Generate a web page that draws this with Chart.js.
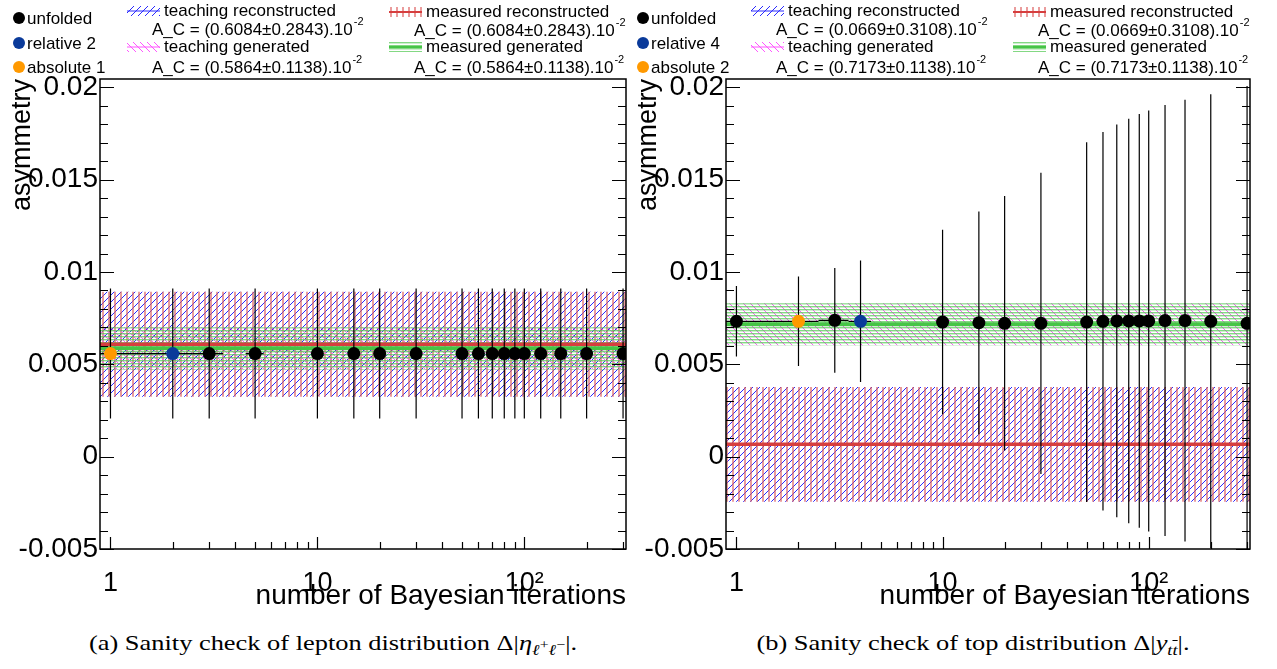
<!DOCTYPE html>
<html>
<head>
<meta charset="utf-8">
<script src="https://cdn.jsdelivr.net/npm/chart.js@4.4.1/dist/chart.umd.min.js"></script>
<style>
  html, body { margin: 0; padding: 0; background: #fff; }
  body { width: 1277px; height: 669px; position: relative; overflow: hidden; }
  .panel { position: absolute; top: 0; height: 620px; }
  #pa { left: 0; width: 636px; }
  #pb { left: 636px; width: 641px; }
  .cap { position: absolute; top: 630px; width: 600px; text-align: center; font-family: "Liberation Serif", serif;
         font-size: 22px; white-space: nowrap; color: #000; transform: scaleX(1.2); }
  #capa { left: 33px; }
  #capb { left: 673px; }
  sub { font-size: 70%; }
  sub sup { font-size: 85%; }
</style>
</head>
<body>
<div class="panel" id="pa"><canvas id="ca" width="636" height="620"></canvas></div>
<div class="panel" id="pb"><canvas id="cb" width="641" height="620"></canvas></div>
<div class="cap" id="capa">(a) Sanity check of lepton distribution Δ|<i>η</i><sub><i>ℓ</i><sup>+</sup><i>ℓ</i><sup>−</sup></sub>|.</div>
<div class="cap" id="capb">(b) Sanity check of top distribution Δ|<i>y</i><sub><i>t</i><span style="text-decoration:overline"><i>t</i></span></sub>|.</div>
<script>
// axis ranges and ticks
const X_MIN = 0.89, X_MAX = 310;
const Y_MIN = -0.005, Y_MAX = 0.02045;
const X_ERR = 0.5;
const xTickValues = [1, 10, 100];
const xTickLabels = ['1', '10', '10²'];
const yTickValues = [-0.005, 0, 0.005, 0.01, 0.015, 0.02];
const yTickLabels = ['-0.005', '0', '0.005', '0.01', '0.015', '0.02'];
const bandLabels = ['teaching reconstructed', 'teaching generated', 'measured reconstructed', 'measured generated'];

// (a) lepton distribution
const aUnfoldedX = [3, 5, 10, 15, 20, 30, 50, 60, 70, 80, 90, 100, 120, 150, 200, 300];
const aUnfoldedY = [0.00558, 0.00558, 0.00558, 0.00558, 0.00558, 0.00558, 0.00558, 0.00558,
                    0.00558, 0.00558, 0.00558, 0.00558, 0.00558, 0.00558, 0.00558, 0.00558];
const aUnfoldedErr = [0.00352, 0.00352, 0.00352, 0.00352, 0.00352, 0.00352, 0.00352, 0.00352,
                      0.00352, 0.00352, 0.00352, 0.00352, 0.00352, 0.00352, 0.00352, 0.00352];
const aRelativeX = [2], aRelativeY = [0.00558], aRelativeErr = [0.00352];
const aAbsoluteX = [1], aAbsoluteY = [0.00558], aAbsoluteErr = [0.00352];
const aTeachReco = [0.006084, 0.002843];
const aMeasReco = [0.006084, 0.002843];
const aTeachGen = [0.005864, 0.001138];
const aMeasGen = [0.005864, 0.001138];
const aMarkerLabels = ['unfolded', 'relative 2', 'absolute 1'];

// (b) top distribution
const bUnfoldedX = [1, 3, 10, 15, 20, 30, 50, 60, 70, 80, 90, 100, 120, 150, 200, 300];
const bUnfoldedY = [0.00733, 0.00738, 0.00729, 0.00725, 0.00722, 0.00722, 0.00729, 0.00733,
                    0.00735, 0.00735, 0.00735, 0.00735, 0.00737, 0.00737, 0.00733, 0.00722];
const bUnfoldedErr = [0.00191, 0.00284, 0.0050, 0.00603, 0.00689, 0.00816, 0.00974, 0.01025,
                      0.01063, 0.01095, 0.0112, 0.0114, 0.01167, 0.01196, 0.01229, 0.01285];
const bRelativeX = [4], bRelativeY = [0.00733], bRelativeErr = [0.00329];
const bAbsoluteX = [2], bAbsoluteY = [0.00733], bAbsoluteErr = [0.00242];
const bTeachReco = [0.000669, 0.003108];
const bMeasReco = [0.000669, 0.003108];
const bTeachGen = [0.007173, 0.001138];
const bMeasGen = [0.007173, 0.001138];
const bMarkerLabels = ['unfolded', 'relative 4', 'absolute 2'];

const SANS = '"Liberation Sans", Arial, sans-serif';
Chart.defaults.font.family = SANS;
Chart.defaults.color = '#000';

const RED = 'rgb(214,62,62)', GREEN = 'rgb(70,196,70)', BLUE = '#2a2aff', PINK = '#ff55ff';
const MARKER_COLORS = ['#000000', '#0a3a9a', '#ff9900'];

function makePattern(w, h, paint) {
  const c = document.createElement('canvas');
  c.width = w; c.height = h;
  const g = c.getContext('2d');
  paint(g, w, h);
  return g.createPattern(c, 'repeat');
}
const patBlue = makePattern(7, 7, (g, w, h) => {
  g.strokeStyle = BLUE; g.lineWidth = 1;
  g.beginPath();
  g.moveTo(-1, h + 1); g.lineTo(w + 1, -1);
  g.moveTo(-1, 1); g.lineTo(1, -1);
  g.moveTo(w - 1, h + 1); g.lineTo(w + 1, h - 1);
  g.stroke();
});
const patRed = makePattern(6, 6, (g, w, h) => {
  g.fillStyle = 'rgba(220,90,90,0.6)'; g.fillRect(0, 0, 2, h);
});
const patPink = makePattern(7, 7, (g, w, h) => {
  g.strokeStyle = PINK; g.lineWidth = 1;
  g.beginPath();
  g.moveTo(-1, -1); g.lineTo(w + 1, h + 1);
  g.moveTo(w - 1, -1); g.lineTo(w + 1, 1);
  g.moveTo(-1, h - 1); g.lineTo(1, h + 1);
  g.stroke();
});
const patGreen = makePattern(3, 3, (g, w, h) => {
  g.fillStyle = 'rgba(80,200,80,0.7)'; g.fillRect(0, 0, w, 1.4);
});

function bandSets(band, pattern, order) {
  const lo = band[0] - band[1], hi = band[0] + band[1];
  const base = { showLine: true, pointRadius: 0, borderColor: 'rgba(0,0,0,0)', borderWidth: 0, order };
  return [
    { ...base, data: [{ x: X_MIN, y: lo }, { x: X_MAX, y: lo }], fill: false },
    { ...base, data: [{ x: X_MIN, y: hi }, { x: X_MAX, y: hi }], fill: '-1', backgroundColor: pattern }
  ];
}
function centreLine(band, color, width, order) {
  return { showLine: true, pointRadius: 0, fill: false, borderColor: color, borderWidth: width, order,
           data: [{ x: X_MIN, y: band[0] }, { x: X_MAX, y: band[0] }] };
}
function pointSet(label, xs, ys, errs, color, order) {
  return { label, order, showLine: false, pointRadius: 6.5, pointHoverRadius: 6.5,
           pointBackgroundColor: color, pointBorderWidth: 0, yErr: errs,
           data: xs.map((x, i) => ({ x, y: ys[i] })) };
}

// error bars in x and y, drawn just before each marker series
const errorBars = {
  id: 'errorBars',
  beforeDatasetDraw(chart, args) {
    const ds = chart.data.datasets[args.index];
    if (!ds.yErr) return;
    const { ctx, chartArea: a, scales: { x, y } } = chart;
    ctx.save();
    ctx.beginPath(); ctx.rect(a.left, a.top, a.right - a.left, a.bottom - a.top); ctx.clip();
    ctx.strokeStyle = '#000'; ctx.lineWidth = 1.2;
    ds.data.forEach((p, i) => {
      const px = x.getPixelForValue(p.x), py = y.getPixelForValue(p.y);
      ctx.beginPath();
      ctx.moveTo(px, y.getPixelForValue(p.y - ds.yErr[i]));
      ctx.lineTo(px, y.getPixelForValue(p.y + ds.yErr[i]));
      ctx.moveTo(x.getPixelForValue(p.x - X_ERR), py);
      ctx.lineTo(x.getPixelForValue(p.x + X_ERR), py);
      ctx.stroke();
    });
    ctx.restore();
  }
};

// ROOT-like frame with inner ticks on both sides
const frame = {
  id: 'frame',
  afterDraw(chart) {
    const { ctx, chartArea: a, scales: { x, y } } = chart;
    ctx.save();
    ctx.strokeStyle = '#000'; ctx.lineWidth = 1.5;
    ctx.strokeRect(a.left, a.top, a.right - a.left, a.bottom - a.top);
    ctx.lineWidth = 1.2;
    ctx.beginPath();
    const step = (yTickValues[1] - yTickValues[0]) / 5;
    for (let v = yTickValues[0]; v <= Y_MAX + 1e-9; v += step) {
      const py = Math.round(y.getPixelForValue(v)) + 0.5;
      const major = yTickValues.some(t => Math.abs(t - v) < 1e-9);
      const len = major ? 14 : 8;
      ctx.moveTo(a.left, py); ctx.lineTo(a.left + len, py);
      ctx.moveTo(a.right, py); ctx.lineTo(a.right - len, py);
    }
    for (let d = 1; d <= 100; d *= 10) {
      for (let m = 1; m <= 9; m++) {
        const v = d * m;
        if (v < X_MIN || v > X_MAX) continue;
        const px = Math.round(x.getPixelForValue(v)) + 0.5;
        const len = m === 1 ? 12 : 7;
        ctx.moveTo(px, a.bottom); ctx.lineTo(px, a.bottom - len);
      }
    }
    ctx.stroke();
    ctx.restore();
  }
};

// legend drawn in the top margin
const legendBox = {
  id: 'legendBox',
  afterDraw(chart, args, opts) {
    const { ctx } = chart;
    const dx = opts.dx;
    ctx.save();
    ctx.textBaseline = 'middle';
    ctx.fillStyle = '#000';
    ctx.font = '17px ' + SANS;
    const my = [18, 43, 67];
    opts.markers.forEach((t, i) => {
      ctx.fillStyle = MARKER_COLORS[i];
      ctx.beginPath(); ctx.arc(19 + dx, my[i], 6, 0, Math.PI * 2); ctx.fill();
      ctx.fillStyle = '#000';
      ctx.fillText(t, 27 + dx, my[i] + 1);
    });
    const entries = [
      { x: 127, y: 11, pat: patBlue, line: BLUE, lw: 1, band: opts.bands[0], label: bandLabels[0], ax: 152, ay: 30 },
      { x: 127, y: 47, pat: patPink, line: PINK, lw: 1, band: opts.bands[1], label: bandLabels[1], ax: 152, ay: 68 },
      { x: 389, y: 12, pat: patRed, line: RED, lw: 2, band: opts.bands[2], label: bandLabels[2], ax: 414, ay: 31 },
      { x: 389, y: 47, pat: patGreen, line: GREEN, lw: 2, band: opts.bands[3], label: bandLabels[3], ax: 414, ay: 68 }
    ];
    entries.forEach(e => {
      const ix = e.x + dx;
      ctx.fillStyle = e.pat;
      ctx.fillRect(ix, e.y - 5, 33, 10);
      ctx.strokeStyle = e.line; ctx.lineWidth = e.lw;
      ctx.beginPath(); ctx.moveTo(ix, e.y); ctx.lineTo(ix + 33, e.y); ctx.stroke();
      ctx.fillStyle = '#000';
      ctx.font = '17px ' + SANS;
      ctx.fillText(e.label, ix + 37, e.y);
      const txt = 'A_C = (' + (e.band[0] * 100).toFixed(4) + '±' + (e.band[1] * 100).toFixed(4) + ').10';
      ctx.fillText(txt, e.ax + dx, e.ay);
      const w = ctx.measureText(txt).width;
      ctx.font = '11px ' + SANS;
      ctx.fillText('-2', e.ax + dx + w + 1, e.ay - 8);
    });
    ctx.restore();
  }
};

function makePanel(id, p) {
  const datasets = [
    pointSet('absolute', p.absX, p.absY, p.absErr, MARKER_COLORS[2], 0),
    pointSet('relative', p.relX, p.relY, p.relErr, MARKER_COLORS[1], 1),
    pointSet('unfolded', p.unfX, p.unfY, p.unfErr, MARKER_COLORS[0], 2),
    centreLine(p.measGen, GREEN, 4, 10),
    centreLine(p.measReco, RED, 3.5, 10),
    centreLine(p.teachGen, PINK, 2, 11),
    centreLine(p.teachReco, BLUE, 2, 11),
    ...bandSets(p.measGen, patGreen, 20),
    ...bandSets(p.teachGen, patPink, 21),
    ...bandSets(p.measReco, patRed, 22),
    ...bandSets(p.teachReco, patBlue, 23)
  ];
  return new Chart(document.getElementById(id), {
    type: 'scatter',
    data: { datasets },
    plugins: [errorBars, frame, legendBox],
    options: {
      responsive: false,
      animation: false,
      events: [],
      layout: { padding: { top: 79, right: p.padRight, left: 0, bottom: 0 } },
      plugins: {
        legend: { display: false },
        tooltip: { enabled: false },
        legendBox: { dx: p.dx, markers: p.markers, bands: [p.teachReco, p.teachGen, p.measReco, p.measGen] }
      },
      scales: {
        x: {
          type: 'logarithmic', min: X_MIN, max: X_MAX,
          grid: { display: false, drawTicks: false }, border: { display: false },
          afterBuildTicks: s => { s.ticks = xTickValues.map(v => ({ value: v })); },
          afterFit: s => { s.height = 71; },
          ticks: { autoSkip: false, maxRotation: 0, padding: 18, font: { size: 27 },
                   callback: (v, i) => xTickLabels[i] },
          title: { display: true, text: 'number of Bayesian iterations', align: 'end',
                   font: { size: 28 }, padding: { top: 0, bottom: 7 } }
        },
        y: {
          min: Y_MIN, max: Y_MAX,
          grid: { display: false, drawTicks: false }, border: { display: false },
          afterBuildTicks: s => { s.ticks = yTickValues.map(v => ({ value: v })); },
          afterFit: s => { s.width = p.yWidth; },
          ticks: { padding: 2, font: { size: 28 }, callback: (v, i) => yTickLabels[i] },
          title: { display: true, text: 'asymmetry', align: 'end',
                   font: { size: 27 }, padding: { top: p.yTitlePad, bottom: 0 } }
        }
      }
    }
  });
}

makePanel('ca', {
  unfX: aUnfoldedX, unfY: aUnfoldedY, unfErr: aUnfoldedErr,
  relX: aRelativeX, relY: aRelativeY, relErr: aRelativeErr,
  absX: aAbsoluteX, absY: aAbsoluteY, absErr: aAbsoluteErr,
  teachReco: aTeachReco, measReco: aMeasReco, teachGen: aTeachGen, measGen: aMeasGen,
  markers: aMarkerLabels, dx: 0, padRight: 10, yWidth: 100, yTitlePad: 6
});
makePanel('cb', {
  unfX: bUnfoldedX, unfY: bUnfoldedY, unfErr: bUnfoldedErr,
  relX: bRelativeX, relY: bRelativeY, relErr: bRelativeErr,
  absX: bAbsoluteX, absY: bAbsoluteY, absErr: bAbsoluteErr,
  teachReco: bTeachReco, measReco: bMeasReco, teachGen: bTeachGen, measGen: bMeasGen,
  markers: bMarkerLabels, dx: -12, padRight: 27, yWidth: 90, yTitlePad: -4
});
</script>
</body>
</html>
